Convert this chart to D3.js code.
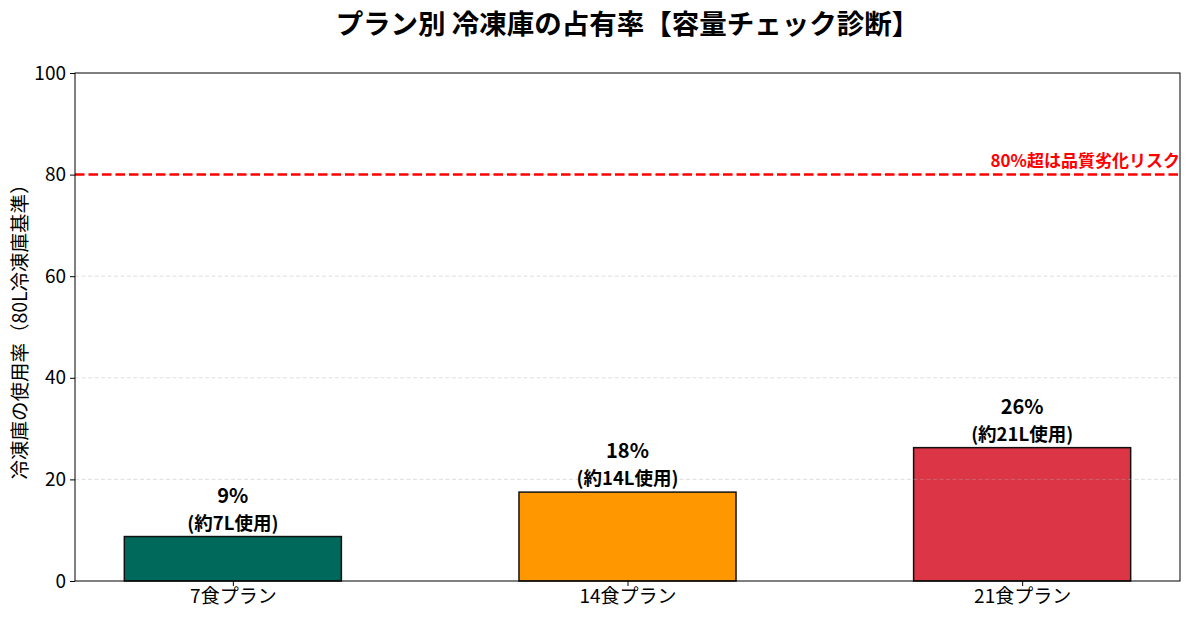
<!DOCTYPE html>
<html>
<head>
<meta charset="utf-8">
<script src="https://d3js.org/d3.v7.min.js"></script>
<style>
  body { margin: 0; background: #fff; }
  text { font-family: "Noto Sans CJK JP", "Noto Sans", sans-serif; }
</style>
</head>
<body>
<svg id="chart" width="1189" height="620"></svg>
<script>
// Data
const plans = ["7食プラン", "14食プラン", "21食プラン"];
const usage = [8.75, 17.5, 26.25];
const valueLabels = ["9%", "18%", "26%"];
const literLabels = ["(約7L使用)", "(約14L使用)", "(約21L使用)"];
const barColors = ["#00695c", "#ff9800", "#dc3545"];
const yTicks = [0, 20, 40, 60, 80, 100];
const riskLevel = 80;
const riskText = "80%超は品質劣化リスク";

const svg = d3.select("#chart");
const margin = {left: 75, right: 9, top: 73, bottom: 39};
const width = 1189, height = 620;

const x = d3.scaleLinear()
    .domain([-0.4, plans.length - 1 + 0.4])
    .range([margin.left, width - margin.right]);

const y = d3.scaleLinear()
    .domain([0, 100])
    .range([height - margin.bottom, margin.top]);

const barWidth = x(0.55) - x(0);

// Bars
svg.selectAll(".bar")
    .data(usage)
  .enter().append("rect")
    .attr("class", "bar")
    .attr("x", (d, i) => x(i) - barWidth / 2)
    .attr("y", d => y(d))
    .attr("width", barWidth)
    .attr("height", d => y(0) - y(d))
    .style("fill", (d, i) => barColors[i])
    .style("stroke", "#111")
    .style("stroke-width", 1.5);

// Grid lines (drawn over the bars)
svg.append("g")
  .selectAll("line")
    .data(yTicks.filter(d => d > 0 && d < 100))
  .enter().append("line")
    .attr("x1", margin.left)
    .attr("x2", width - margin.right)
    .attr("y1", d => y(d))
    .attr("y2", d => y(d))
    .style("stroke", "#b0b0b0")
    .style("stroke-opacity", 0.5)
    .style("stroke-dasharray", "4,2.5")
    .style("stroke-width", 0.8);

// Risk line
svg.append("line")
    .attr("x1", margin.left)
    .attr("x2", width - margin.right)
    .attr("y1", y(riskLevel))
    .attr("y2", y(riskLevel))
    .style("stroke", "#ff0000")
    .style("stroke-width", 2.5)
    .style("stroke-dasharray", "9.5,4");

svg.append("text")
    .attr("x", width - margin.right)
    .attr("y", y(riskLevel) - 8)
    .attr("text-anchor", "end")
    .style("font-size", "17px")
    .style("font-weight", "bold")
    .style("fill", "#ff0000")
    .text(riskText);

// Bar labels: one text, two lines
const labels = svg.append("g").selectAll("text")
    .data(usage)
  .enter().append("text")
    .attr("text-anchor", "middle")
    .style("font-weight", "bold");

labels.append("tspan")
    .attr("x", (d, i) => x(i))
    .attr("y", d => y(d) - 34)
    .style("font-size", "20px")
    .text((d, i) => valueLabels[i]);

labels.append("tspan")
    .attr("x", (d, i) => x(i))
    .attr("y", d => y(d) - 7)
    .style("font-size", "18.5px")
    .text((d, i) => literLabels[i]);

// Axes
const yAxis = svg.append("g")
    .attr("transform", "translate(" + margin.left + ",0)")
    .call(d3.axisLeft(y).tickValues(yTicks).tickSize(5).tickPadding(4));

const xAxis = svg.append("g")
    .attr("transform", "translate(0," + y(0) + ")")
    .call(d3.axisBottom(x).tickValues(d3.range(plans.length)).tickSize(5).tickPadding(4)
      .tickFormat(i => plans[i]));

[xAxis, yAxis].forEach(a => {
  a.select(".domain").remove();
  a.selectAll("text").style("font-size", "19px").style("fill", "#000")
    .style("font-family", "'Noto Sans CJK JP', sans-serif");
  a.selectAll("line").style("stroke", "#000");
});

// Frame
svg.append("rect")
    .attr("x", margin.left)
    .attr("y", margin.top)
    .attr("width", width - margin.left - margin.right)
    .attr("height", y(0) - margin.top)
    .style("fill", "none")
    .style("stroke", "#000")
    .style("stroke-width", 1);

// Y label
svg.append("text")
    .attr("transform", "translate(18," + ((margin.top + y(0)) / 2) + ")rotate(-90)")
    .attr("text-anchor", "middle")
    .attr("dominant-baseline", "central")
    .style("font-size", "19.5px")
    .text("冷凍庫の使用率（80L冷凍庫基準）");

// Title
svg.append("text")
    .attr("x", (margin.left + width - margin.right) / 2)
    .attr("y", 22)
    .attr("text-anchor", "middle")
    .attr("dominant-baseline", "central")
    .style("font-size", "27.5px")
    .style("font-weight", "bold")
    .text("プラン別 冷凍庫の占有率【容量チェック診断】");
</script>
</body>
</html>
